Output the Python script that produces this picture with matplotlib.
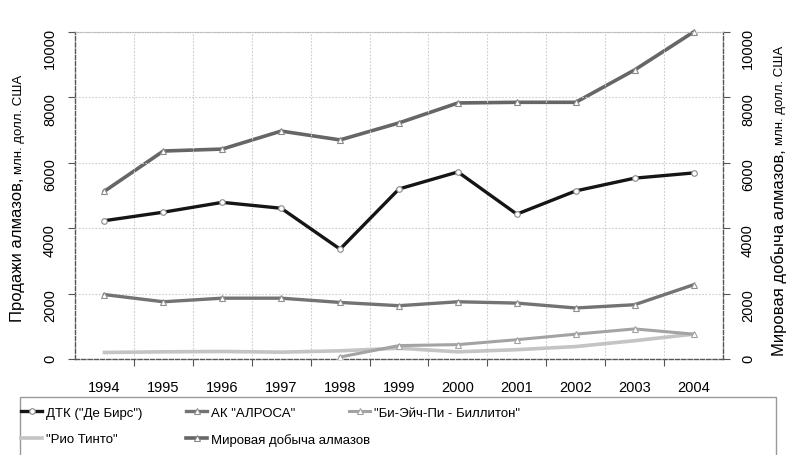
import numpy as np
import matplotlib
matplotlib.use('Agg')
from matplotlib import pyplot as plt
from matplotlib.patches import Rectangle

plt.rcParams['font.family'] = ['Liberation Sans', 'DejaVu Sans']

# Data.
years = ['1994', '1995', '1996', '1997', '1998', '1999',
         '2000', '2001', '2002', '2003', '2004']
de_beers = [4230, 4490, 4790, 4610, 3360, 5200, 5720, 4430, 5140, 5530, 5690]
alrosa = [1970, 1750, 1860, 1860, 1730, 1630, 1750, 1710, 1560, 1660, 2270]
bhp = [np.nan, np.nan, np.nan, np.nan, 60, 410, 440, 590, 760, 920, 760]
rio = [200, 220, 230, 210, 250, 330, 220, 285, 380, 560, 760]
world = [5130, 6360, 6420, 6970, 6700, 7220, 7830, 7850, 7850, 8840, 10000]

names = ['ДТК ("Де Бирс")', 'АК "АЛРОСА"', '"Би-Эйч-Пи - Биллитон"',
         '"Рио Тинто"', 'Мировая добыча алмазов']


def main():
    fig = plt.figure(figsize=(7.9, 4.56), dpi=100)
    ax = fig.add_axes([75 / 790, 1 - 360 / 456, 648 / 790, 327 / 456])
    ax2 = ax.twinx()

    x = np.arange(len(years))
    mk = dict(marker='o', markersize=4, markerfacecolor='white',
              markeredgewidth=0.8)

    l_rio, = ax.plot(x, rio, color='#c4c4c4', lw=2.6, zorder=3)
    l_bhp, = ax.plot(x, bhp, color='#a3a3a3', lw=2.2, markeredgecolor='#a3a3a3',
                     zorder=4, **dict(mk, marker='^'))
    l_alr, = ax.plot(x, alrosa, color='#737373', lw=2.4, markeredgecolor='#909090',
                     zorder=5, **dict(mk, marker='^'))
    l_deb, = ax.plot(x, de_beers, color='#151515', lw=2.4, markeredgecolor='#888888',
                     zorder=6, **mk)
    l_wld, = ax2.plot(x, world, color='#666666', lw=2.6, markeredgecolor='#8a8a8a',
                      zorder=5, clip_on=False, **dict(mk, marker='^'))

    for a in (ax, ax2):
        a.set_ylim(0, 10000)
        a.set_yticks(range(0, 10001, 2000))
        a.set_xlim(-0.5, len(years) - 0.5)
        a.tick_params(axis='y', labelrotation=90, labelsize=10.5, length=5,
                      pad=8, color='#555555')

    # category axis: ticks between categories, labels at centres
    ax.set_xticks(np.arange(0.5, len(years) - 1, 1.0))
    ax.set_xticklabels([])
    ax.set_xticks(x, minor=True)
    ax.set_xticklabels(years, minor=True)
    ax.tick_params(axis='x', which='major', length=5, color='#555555')
    ax.tick_params(axis='x', which='minor', length=0, labelsize=10.5, pad=15)

    ax.grid(True, which='major', linestyle=(0, (1.5, 1.5)), color='#cccccc', lw=0.8)
    ax.set_axisbelow(True)
    for s in ('left', 'bottom', 'right'):
        ax2.spines[s].set_linestyle((0, (3, 1.5)))
        ax2.spines[s].set_color('#555555')
        ax2.spines[s].set_linewidth(1.0)
        ax.spines[s].set_visible(False)
    ax2.spines['top'].set_linestyle((0, (1.5, 1.5)))
    ax2.spines['top'].set_color('#999999')
    ax.spines['top'].set_visible(False)
    ax.set_zorder(ax2.get_zorder() + 1)
    ax.patch.set_visible(False)

    # rotated axis titles made of two font sizes
    fig.canvas.draw()
    r = fig.canvas.get_renderer()
    for xc, y0, big in ((18, 322, 'Продажи алмазов,'),
                        (779, 356, 'Мировая добыча алмазов,')):
        t = fig.text(xc / 790, 1 - y0 / 456, big, rotation=90, fontsize=12,
                     ha='center', va='bottom')
        bb = t.get_window_extent(r)
        fig.text(xc / 790 + 0.0015, (bb.y1 + 4) / 456, 'млн. долл. США', rotation=90,
                 fontsize=9.5, ha='center', va='bottom')

    # legend: frame plus three columns
    fig.patches.append(Rectangle((20 / 790, -0.05), 756 / 790, 0.05 + 58 / 456,
                                 transform=fig.transFigure, fill=False,
                                 edgecolor='#999999', lw=1.0))
    cols = [([l_deb, l_rio], [names[0], names[3]], 20),
            ([l_alr, l_wld], [names[1], names[4]], 185),
            ([l_bhp], [names[2]], 348)]
    for hs, labs, xl in cols:
        fig.legend(hs, labs, loc='upper left', bbox_to_anchor=(xl / 790, 1 - 406 / 456),
                   frameon=False, fontsize=9.5, handlelength=1.6, handletextpad=0.3,
                   labelspacing=1.1, borderaxespad=0, borderpad=0.1)

    fig.savefig('out.png', dpi=100)


if __name__ == '__main__':
    main()
